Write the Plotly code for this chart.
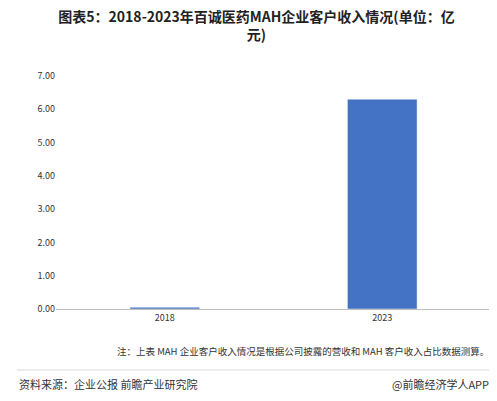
import plotly.graph_objects as go

years = ["2018", "2023"]
revenue = [0.05, 6.30]
y_ticks = [0, 1, 2, 3, 4, 5, 6, 7]

fig = go.Figure()
fig.add_trace(go.Bar(x=years, y=revenue, marker_color="#4472C4", width=0.32))

font = "Noto Sans CJK SC"
fig.update_layout(
    width=497, height=401,
    margin=dict(l=48, r=14, t=68, b=100),
    paper_bgcolor="white", plot_bgcolor="white",
    showlegend=False,
    font=dict(family=font, size=10, color="#333333"),
    title=dict(text="<b>图表5：2018-2023年百诚医药MAH企业客户收入情况(单位：亿<br>元)</b>",
               x=0.5, xanchor="center", y=0.965, yanchor="top", yref="container",
               font=dict(size=14, color="#222222", family=font)),
    xaxis=dict(showline=True, linecolor="#BFBFBF", ticks="", tickfont=dict(size=9)),
    yaxis=dict(range=[0, 7], tickvals=y_ticks, tickformat=".2f", showgrid=False,
               zeroline=False, tickfont=dict(size=9)),
)
fig.add_annotation(text="注：上表 MAH 企业客户收入情况是根据公司披露的营收和 MAH 客户收入占比数据测算。",
                   xref="paper", yref="paper", x=1.0, y=-0.18, xanchor="right", yanchor="middle",
                   showarrow=False, font=dict(size=9.5, color="#333333"))
fig.add_annotation(text="资料来源：企业公报 前瞻产业研究院", xref="paper", yref="paper",
                   x=-0.09, y=-0.32, xanchor="left", yanchor="middle",
                   showarrow=False, font=dict(size=11, color="#333333"))
fig.add_annotation(text="@前瞻经济学人APP", xref="paper", yref="paper",
                   x=1.0, y=-0.32, xanchor="right", yanchor="middle",
                   showarrow=False, font=dict(size=11, color="#333333"))
fig.add_shape(type="line", xref="paper", yref="paper", x0=-0.09, x1=1.0, y0=-0.262, y1=-0.262,
              line=dict(color="#D9D9D9", width=1))

fig.write_html("out.html")
